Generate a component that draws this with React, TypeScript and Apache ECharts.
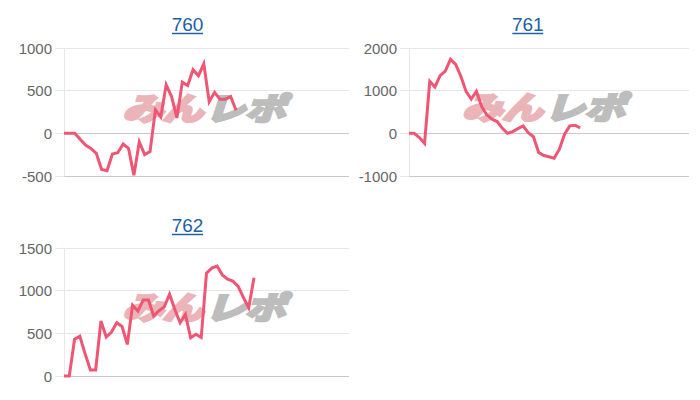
import React, { useEffect, useRef } from "react";
import * as echarts from "echarts";

const titles = ["760", "761", "762"];

const values760 = [0, 0, 0, -70, -137, -176, -235, -424, -439, -243, -227, -125, -176, -490, -100, -250, -215, 275, 190, 569, 431, 180, 600, 560, 745, 675, 815, 370, 480, 400, 400, 430, 270];
const values761 = [0, 0, -100, -236, 1220, 1087, 1354, 1457, 1732, 1614, 1339, 984, 803, 984, 630, 433, 331, 276, 118, 0, 40, 110, 173, 16, -79, -450, -520, -550, -585, -370, -20, 175, 190, 130];
const values762 = [0, 0, 430, 465, 260, 70, 70, 645, 457, 516, 625, 580, 370, 830, 760, 890, 890, 703, 765, 810, 958, 780, 624, 722, 447, 490, 451, 1205, 1264, 1288, 1185, 1136, 1112, 1050, 920, 800, 1152];

const slotCounts = [54, 55, 55];
const yMins = [-500, -1000, 0];
const yMaxs = [1000, 2000, 1500];
const ySteps = [500, 1000, 500];

const watermarkLeft = "みん";
const watermarkRight = "レポ";

const LINE_COLOR = "#ef5674";
const TITLE_COLOR = "#2060a4";
const GRID_LIGHT = "#e8e8e8";
const GRID_DARK = "#c9c9c9";
const FONT = "'Liberation Sans', Arial, sans-serif";

export default function App() {
  const ref = useRef<HTMLDivElement>(null);

  useEffect(() => {
    if (!ref.current) return;
    const chart = echarts.init(ref.current, null, { renderer: "svg" });

    const grids = [
      { left: 64, top: 48, width: 285, height: 128 },
      { left: 409, top: 48, width: 280, height: 128 },
      { left: 64, top: 248, width: 285, height: 128 },
    ];
    const titlePos = [
      [187.5, 24],
      [527.8, 24],
      [187.5, 225],
    ];
    const markPos = [
      [204, 106],
      [543.5, 105],
      [204, 305],
    ];
    const seriesValues = [values760, values761, values762];

    const xAxes = slotCounts.map((n, i) => ({
      type: "category" as const,
      gridIndex: i,
      boundaryGap: false,
      data: Array.from({ length: n }, (_, k) => String(k + 1)),
      axisLine: { show: false },
      axisTick: { show: false },
      axisLabel: { show: false },
      splitLine: { show: false },
    }));

    const yAxes = yMins.map((mn, i) => {
      const count = Math.round((yMaxs[i] - mn) / ySteps[i]) + 1;
      const colors: string[] = [];
      for (let k = 0; k < count; k++) {
        const v = mn + k * ySteps[i];
        colors.push(k === 0 || v === 0 ? GRID_DARK : GRID_LIGHT);
      }
      return {
        type: "value" as const,
        gridIndex: i,
        min: mn,
        max: yMaxs[i],
        interval: ySteps[i],
        axisLine: { show: true, lineStyle: { color: GRID_LIGHT, width: 1 } },
        axisTick: { show: true, length: 9, lineStyle: { color: GRID_LIGHT } },
        axisLabel: {
          color: "#666",
          fontSize: 15,
          fontFamily: FONT,
          margin: 12,
          formatter: (v: number) => String(v),
        },
        splitLine: { show: true, lineStyle: { color: colors, width: 1 } },
      };
    });

    const series = seriesValues.map((vals, i) => ({
      type: "line" as const,
      xAxisIndex: i,
      yAxisIndex: i,
      data: vals,
      showSymbol: false,
      symbol: "none",
      clip: false,
      z: 5,
      lineStyle: { color: LINE_COLOR, width: 3, join: "miter" as const },
      itemStyle: { color: LINE_COLOR },
    }));

    const graphics: any[] = [];
    titles.forEach((t, i) => {
      const [cx, cy] = titlePos[i];
      graphics.push({
        type: "text",
        x: cx,
        y: cy,
        z: 10,
        style: {
          text: t,
          fill: TITLE_COLOR,
          font: `19px ${FONT}`,
          textAlign: "center",
          textVerticalAlign: "middle",
        },
      });
      graphics.push({
        type: "line",
        z: 10,
        shape: { x1: cx - 15.5, y1: cy + 9.5, x2: cx + 15.5, y2: cy + 9.5 },
        style: { stroke: TITLE_COLOR, lineWidth: 1.5 },
      });
    });
    const markFont = `italic bold 31px 'Noto Sans CJK JP', sans-serif`;
    markPos.forEach(([cx, cy]) => {
      graphics.push({
        type: "text",
        x: cx - 1,
        y: cy,
        scaleX: 1.3,
        z: 1,
        style: {
          text: watermarkLeft,
          fill: "#ebb4b9",
          stroke: "#ebb4b9",
          lineWidth: 3,
          font: markFont,
          textAlign: "right",
          textVerticalAlign: "middle",
        },
      });
      graphics.push({
        type: "text",
        x: cx + 1,
        y: cy,
        scaleX: 1.3,
        z: 1,
        style: {
          text: watermarkRight,
          fill: "#bdbdbd",
          stroke: "#bdbdbd",
          lineWidth: 3,
          font: markFont,
          textAlign: "left",
          textVerticalAlign: "middle",
        },
      });
    });

    chart.setOption({
      animation: false,
      backgroundColor: "#ffffff",
      grid: grids,
      xAxis: xAxes,
      yAxis: yAxes,
      series,
      graphic: { elements: graphics },
    });

    return () => {
      chart.dispose();
    };
  }, []);

  return (
    <div
      ref={ref}
      style={{ position: "fixed", left: 0, top: 0, width: 700, height: 400 }}
    />
  );
}
